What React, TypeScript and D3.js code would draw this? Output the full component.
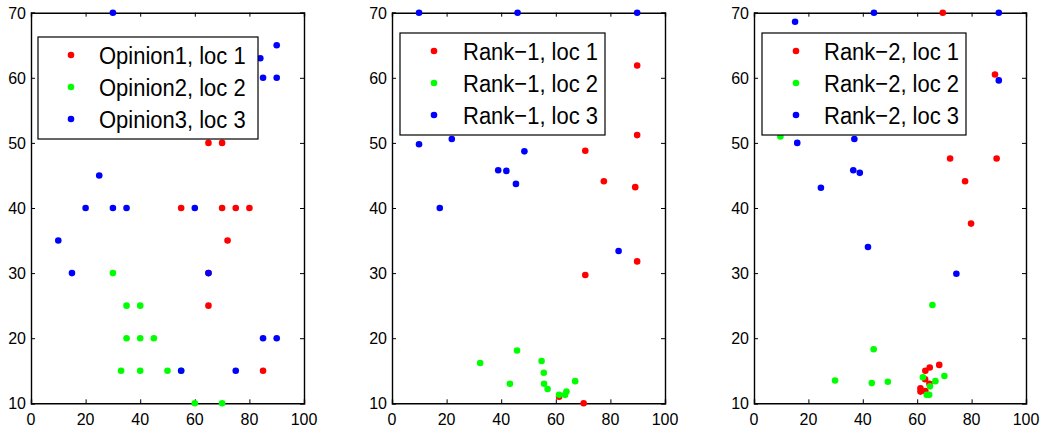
import React, { useRef, useEffect } from 'react';
import * as d3 from 'd3';

// tick values
const xTicks = [0, 20, 40, 60, 80, 100];
const yTicks = [10, 20, 30, 40, 50, 60, 70];

// panel 1 : opinions
const opinion1 = [[65, 50], [70, 50], [55, 40], [70, 40], [75, 40], [80, 40], [72, 35], [65, 30], [65, 25], [85, 15]];
const opinion2 = [[30, 30], [35, 25], [40, 25], [35, 20], [40, 20], [45, 20], [33, 15], [40, 15], [50, 15], [55, 15], [60, 10], [70, 10]];
const opinion3 = [[30, 70], [84, 63], [85, 60], [90, 60], [90, 65], [25, 45], [20, 40], [30, 40], [35, 40], [60, 40],
  [10, 35], [15, 30], [65, 30], [85, 20], [90, 20], [55, 15], [75, 15]];

// panel 2 : rank-1
const rank1loc1 = [[89.8, 61.9], [76.6, 58.1], [89.8, 51.2], [70.8, 48.8], [77.6, 44.1], [89.1, 43.2], [70.8, 29.7], [89.8, 31.8], [61.2, 11], [70.2, 10]];
const rank1loc2 = [[32.3, 16.2], [45.8, 18.1], [43.2, 13], [54.8, 16.5], [55.6, 14.7], [55.7, 13], [57, 12.2], [61.2, 11.3],
  [63.4, 11.3], [63.9, 11.8], [67.1, 13.4]];
const rank1loc3 = [[9.9, 70], [46, 70], [89.8, 70], [9.9, 49.8], [21.9, 50.6], [38.9, 45.8], [41.9, 45.7], [45.4, 43.7],
  [48.5, 48.7], [17.5, 40], [83, 33.4]];

// panel 3 : rank-2
const rank2loc1 = [[69.4, 70], [88.6, 60.5], [76.4, 58.1], [65.8, 51.8], [89.2, 47.6], [72.1, 47.6], [77.6, 44.1], [79.8, 37.6],
  [68.1, 15.9], [64.6, 15.5], [63, 15], [62.9, 13.7], [61.2, 12.3], [61.2, 11.8], [63, 11.9], [64.5, 13]];
const rank2loc2 = [[9.7, 51], [65.6, 25.1], [44, 18.3], [29.8, 13.5], [43.3, 13.1], [49.2, 13.3], [62.1, 14], [66.7, 13.4],
  [70, 14.2], [64.7, 12.6], [63.5, 11.3], [64.4, 11.3]];
const rank2loc3 = [[15.1, 68.6], [44.1, 70], [90, 70], [90, 59.6], [15.9, 50], [36.9, 50.6], [36.5, 45.8], [38.9, 45.4],
  [24.6, 43.1], [41.9, 34], [74.4, 29.9]];

const labels1 = ['Opinion1, loc 1', 'Opinion2, loc 2', 'Opinion3, loc 3'];
const labels2 = ['Rank\u22121, loc 1', 'Rank\u22121, loc 2', 'Rank\u22121, loc 3'];
const labels3 = ['Rank\u22122, loc 1', 'Rank\u22122, loc 2', 'Rank\u22122, loc 3'];

const colors = ['#ff0000', '#00ff00', '#0000ff'];

const panels = [
  { left: 31, right: 304, series: [opinion1, opinion2, opinion3], labels: labels1, legend: { x: 38, y: 37, w: 220, mark: 33, text: 61 } },
  { left: 392, right: 665, series: [rank1loc1, rank1loc2, rank1loc3], labels: labels2, legend: { x: 400, y: 33, w: 205, mark: 34, text: 63 } },
  { left: 754, right: 1026, series: [rank2loc1, rank2loc2, rank2loc3], labels: labels3, legend: { x: 762, y: 33, w: 204, mark: 34, text: 62 } },
];

const TOP = 12.7;
const BOTTOM = 403.3;
const FONT = '"Liberation Sans", Arial, Helvetica, sans-serif';

export default function App() {
  const ref = useRef<SVGSVGElement>(null);

  useEffect(() => {
    const svg = d3.select(ref.current);
    svg.selectAll('*').remove();

    panels.forEach((p) => {
      const x = d3.scaleLinear().domain([0, 100]).range([p.left, p.right]);
      const y = d3.scaleLinear().domain([10, 70]).range([BOTTOM, TOP]);
      const g = svg.append('g');

      // frame with inward ticks
      g.append('g').attr('transform', `translate(0,${BOTTOM})`)
        .call(d3.axisTop(x).tickValues(xTicks).tickSize(4).tickFormat(() => ''));
      g.append('g').attr('transform', `translate(0,${TOP})`)
        .call(d3.axisBottom(x).tickValues(xTicks).tickSize(4).tickFormat(() => ''));
      g.append('g').attr('transform', `translate(${p.left},0)`)
        .call(d3.axisRight(y).tickValues(yTicks).tickSize(4).tickFormat(() => ''));
      g.append('g').attr('transform', `translate(${p.right},0)`)
        .call(d3.axisLeft(y).tickValues(yTicks).tickSize(4).tickFormat(() => ''));
      g.selectAll('.domain').attr('stroke', '#000').attr('stroke-width', 1.4);
      g.selectAll('.tick line').attr('stroke', '#000').attr('stroke-width', 1);

      // tick labels
      g.selectAll('.xl').data(xTicks).enter().append('text')
        .attr('x', (d) => x(d)).attr('y', BOTTOM + 22)
        .attr('text-anchor', 'middle')
        .attr('font-family', FONT).attr('font-size', 16)
        .text((d) => d);
      g.selectAll('.yl').data(yTicks).enter().append('text')
        .attr('x', p.left - 5).attr('y', (d) => y(d) + 6)
        .attr('text-anchor', 'end')
        .attr('font-family', FONT).attr('font-size', 16)
        .text((d) => d);

      // points
      p.series.forEach((s, i) => {
        g.selectAll(`.pt${i}`).data(s).enter().append('circle')
          .attr('cx', (d) => x(d[0])).attr('cy', (d) => y(d[1]))
          .attr('r', 3.3).attr('fill', colors[i]);
      });

      // legend
      const L = p.legend;
      g.append('rect').attr('x', L.x).attr('y', L.y).attr('width', L.w).attr('height', 102)
        .attr('fill', '#fff').attr('stroke', '#000').attr('stroke-width', 1.2);
      p.labels.forEach((lab, i) => {
        const cy = L.y + 18 + i * 32;
        g.append('circle').attr('cx', L.x + L.mark).attr('cy', cy).attr('r', 3.3).attr('fill', colors[i]);
        // slightly taller glyphs, like the original renderer
        g.append('text')
          .attr('transform', `translate(${L.x + L.text},${cy + 8.5}) scale(1,1.12)`)
          .attr('font-family', FONT).attr('font-size', 22)
          .text(lab);
      });
    });
  }, []);

  return (
    <svg ref={ref} width={1042} height={432}
      style={{ position: 'absolute', left: 0, top: 0, background: '#fff' }} />
  );
}
